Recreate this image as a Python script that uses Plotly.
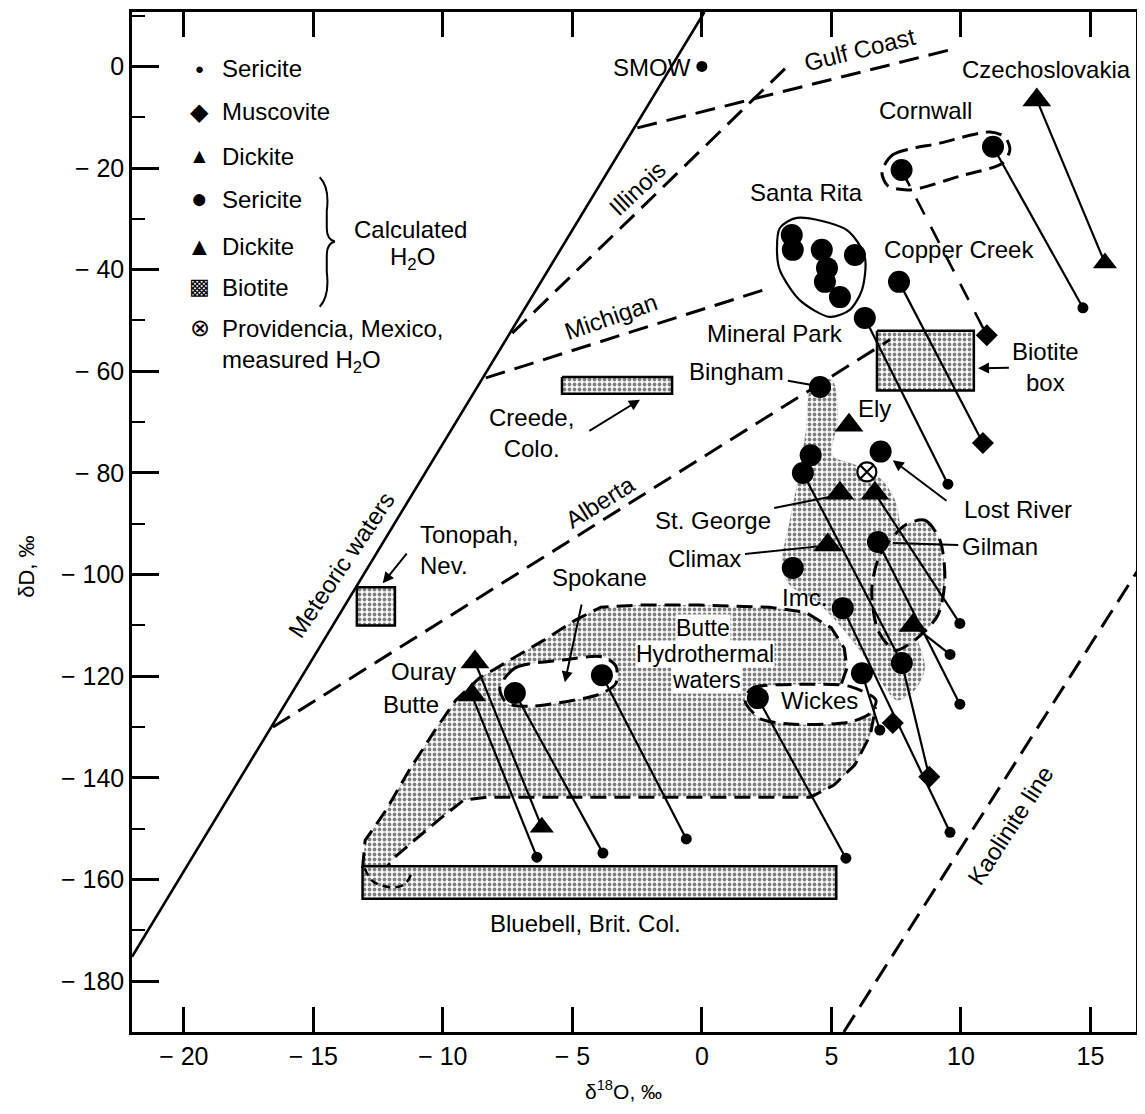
import plotly.graph_objects as go

# ---------------- data (delta18O, deltaD in per mil) ----------------
meteoric_x = [-22.0, 0.1]
meteoric_y = [-175.2, 10.7]
gulf_x = [-2.49, 9.58]
gulf_y = [-12.1, 3.25]
illinois_x = [-7.32, 3.3]
illinois_y = [-52.5, 0.0]
michigan_x = [-8.34, 2.63]
michigan_y = [-61.3, -43.6]
alberta_x = [-16.56, 7.26]
alberta_y = [-130.0, -53.8]
kaolinite_x = [5.48, 17.0]
kaolinite_y = [-190.0, -97.8]

smow_x = [0.0]
smow_y = [0.0]

calc_sericite_x = [7.71, 11.24, 3.47, 3.51, 4.63, 5.91, 4.83, 4.75, 5.33, 7.61, 6.29,
                   4.56, 3.9, 4.2, 6.9, 6.8, 3.51, 5.44, 6.18, 7.72, 2.16, -7.22, -3.86]
calc_sericite_y = [-20.4, -15.8, -33.2, -36.1, -36.1, -37.1, -39.7, -42.4, -45.4, -42.4, -49.5,
                   -63.1, -80.0, -76.5, -75.8, -93.6, -98.7, -106.6, -119.4, -117.4, -124.3, -123.3, -119.8]
calc_dickite_x = [12.93, 5.68, 5.33, 6.68, 4.86, 8.15, -8.76, -8.88]
calc_dickite_y = [-6.6, -70.6, -84.0, -84.0, -94.2, -110.0, -117.2, -123.7]

meas_sericite_x = [14.71, 9.5, 9.96, 9.58, 9.96, 6.87, 9.58, 5.56, -0.6, -3.82, -6.37]
meas_sericite_y = [-47.5, -82.2, -109.6, -115.7, -125.5, -130.6, -150.7, -155.8, -152.0, -154.8, -155.6]
meas_muscovite_x = [11.0, 10.85, 7.37, 8.78]
meas_muscovite_y = [-52.9, -74.1, -129.2, -139.8]
meas_dickite_x = [15.56, -6.18]
meas_dickite_y = [-38.7, -149.7]
providencia_x = [6.37]
providencia_y = [-79.8]

# tie lines: calculated H2O -> mineral
tie_from_x = [12.93, 11.24, 7.61, 6.29, 6.68, 8.15, 6.8, 5.44, 6.18, 7.72, 2.16, -3.86, -7.22, -8.76, -8.88, 3.9]
tie_from_y = [-6.6, -15.8, -42.4, -49.5, -84.0, -110.0, -93.6, -106.6, -119.4, -117.4, -124.3, -119.8, -123.3, -117.2, -123.7, -80.0]
tie_to_x = [15.56, 14.71, 10.85, 9.5, 9.96, 9.58, 9.96, 9.58, 6.87, 8.78, 5.56, -0.6, -3.82, -6.18, -6.37, 7.72]
tie_to_y = [-38.7, -47.5, -74.1, -82.2, -109.6, -115.7, -125.5, -150.7, -130.6, -139.8, -155.8, -152.0, -154.8, -149.7, -155.6, -117.4]
cornwall_tie_x = [7.71, 11.0]
cornwall_tie_y = [-20.4, -52.9]

# biotite boxes (x range, y range)
creede_x = [-5.4, -1.15]
creede_y = [-61.1, -64.4]
tonopah_x = [-13.32, -11.85]
tonopah_y = [-102.5, -110.0]
biotite_box_x = [6.76, 10.5]
biotite_box_y = [-52.0, -63.8]
bluebell_x = [-13.1, 5.19]
bluebell_y = [-157.4, -163.8]

# outlined fields
butte_x = [-13.1, -13.0, -12.2, -11.3, -10.3, -9.5, -8.6, -7.4, -6.1, -4.9, -3.9, -2.4, -0.1, 2.6, 4.0,
           5.0, 5.5, 5.6, 5.3, 6.0, 6.7, 6.5, 5.9, 5.1, 4.2, 2.2, -3.9, -8.3, -9.2, -10.1, -11.1, -11.9, -12.2]
butte_y = [-157.8, -152.3, -146.4, -138.5, -130.6, -124.7, -120.4, -116.8, -112.9, -109.0, -106.4, -106.0,
           -106.0, -106.4, -107.4, -110.5, -114.5, -118.4, -122.7, -124.7, -126.3, -131.6, -137.5, -141.4,
           -143.8, -143.8, -143.8, -143.8, -144.4, -148.0, -152.3, -155.8, -157.8]
band_x = [4.25, 5.02, 5.25, 5.02, 5.91, 6.87, 7.45, 7.72, 7.95, 8.34, 8.61, 8.22, 7.53, 6.87, 6.1,
          5.33, 4.36, 3.4, 3.09, 3.4, 3.78, 4.02]
band_y = [-62.7, -61.7, -69.6, -76.5, -78.4, -81.0, -85.3, -93.2, -105.0, -112.9, -118.4, -122.7, -124.7,
          -120.8, -114.9, -110.0, -105.0, -102.1, -98.1, -89.3, -79.4, -71.6]
gilman_x = [7.84, 8.61, 9.19, 9.38, 9.11, 8.22, 7.45, 6.8, 6.56, 6.87]
gilman_y = [-90.3, -89.3, -93.2, -101.1, -108.0, -112.9, -114.9, -111.0, -103.0, -96.2]
spokane_x = [-7.8, -7.22, -5.37, -3.82, -3.32, -3.32, -3.94, -6.64, -7.53]
spokane_y = [-122.3, -118.4, -116.8, -116.2, -118.0, -121.4, -123.5, -125.9, -125.3]
wickes_x = [1.66, 1.93, 3.78, 5.71, 6.72, 6.49, 5.71, 3.4, 2.24]
wickes_y = [-124.7, -122.4, -121.6, -122.0, -124.7, -127.3, -129.0, -129.4, -128.3]
cornwall_x = [6.95, 7.37, 9.19, 11.12, 11.7, 11.89, 11.62, 9.96, 8.03, 7.18]
cornwall_y = [-20.8, -17.4, -15.1, -12.9, -13.9, -16.4, -19.0, -21.6, -24.3, -23.5]
santarita_x = [3.67, 5.6, 6.29, 6.18, 5.71, 4.94, 3.78, 3.01, 2.9, 3.01]
santarita_y = [-29.8, -32.2, -37.5, -44.0, -47.9, -49.3, -46.0, -40.1, -36.1, -31.8]
bluebell_loop_x = [-13.01, -12.74, -12.05, -11.47, -11.16]
bluebell_loop_y = [-157.8, -160.2, -161.5, -160.9, -158.2]

x_ticks = [-20, -15, -10, -5, 0, 5, 10, 15]
x_ticktext = ["\u2212 20", "\u2212 15", "\u2212 10", "\u2212 5", "0", "5", "10", "15"]
y_ticks = [-180, -160, -140, -120, -100, -80, -60, -40, -20, 0]
y_ticktext = ["\u2212 180", "\u2212 160", "\u2212 140", "\u2212 120", "\u2212 100",
              "\u2212 80", "\u2212 60", "\u2212 40", "\u2212 20", "0"]

# ---------------- figure ----------------
FONT = "Liberation Sans, Arial, Helvetica, sans-serif"
DASH = "16px,8px"
STIPPLE = dict(shape=".", bgcolor="white", fgcolor="black", size=5, solidity=0.45)

fig = go.Figure()


def closed(a):
    return list(a) + [a[0]]


def rect(xr, yr):
    return [xr[0], xr[1], xr[1], xr[0], xr[0]], [yr[0], yr[0], yr[1], yr[1], yr[0]]


def add_region(xs, ys, dash=DASH, width=3, pattern=True, fillwhite=False, smooth=False):
    kw = dict(x=closed(xs), y=closed(ys), mode="lines", hoverinfo="skip", showlegend=False,
              line=dict(color="black", width=width, dash=dash,
                        shape="spline" if smooth else "linear", smoothing=0.8))
    if pattern:
        kw.update(fill="toself", fillcolor="white", fillpattern=STIPPLE)
    elif fillwhite:
        kw.update(fill="toself", fillcolor="white")
    fig.add_trace(go.Scatter(**kw))


# stippled fields
add_region(butte_x, butte_y)
add_region(band_x, band_y, dash="solid", width=0.1, smooth=True)
add_region(gilman_x, gilman_y, smooth=True)
for bx, by in [(creede_x, creede_y), (tonopah_x, tonopah_y), (biotite_box_x, biotite_box_y),
               (bluebell_x, bluebell_y)]:
    rx, ry = rect(bx, by)
    fig.add_trace(go.Scatter(x=rx, y=ry, mode="lines", fill="toself", fillcolor="white",
                             fillpattern=STIPPLE, line=dict(color="black", width=2.5),
                             hoverinfo="skip", showlegend=False))
# white enclosures
add_region(spokane_x, spokane_y, pattern=False, fillwhite=True, smooth=True)
add_region(wickes_x, wickes_y, pattern=False, fillwhite=True, smooth=True)
add_region(cornwall_x, cornwall_y, pattern=False, smooth=True)
add_region(santarita_x, santarita_y, dash="solid", width=2.2, pattern=False, fillwhite=True, smooth=True)
fig.add_trace(go.Scatter(x=bluebell_loop_x, y=bluebell_loop_y, mode="lines", hoverinfo="skip",
                         showlegend=False,
                         line=dict(color="black", width=2.5, dash="8px,5px", shape="spline")))

# reference lines
fig.add_trace(go.Scatter(x=meteoric_x, y=meteoric_y, mode="lines", showlegend=False,
                         line=dict(color="black", width=2.6)))
for lx, ly in [(gulf_x, gulf_y), (illinois_x, illinois_y), (michigan_x, michigan_y),
               (alberta_x, alberta_y), (kaolinite_x, kaolinite_y)]:
    fig.add_trace(go.Scatter(x=lx, y=ly, mode="lines", showlegend=False,
                             line=dict(color="black", width=3, dash="20px,10px")))

# tie lines
tx, ty = [], []
for a, b, c, d in zip(tie_from_x, tie_from_y, tie_to_x, tie_to_y):
    tx += [a, c, None]
    ty += [b, d, None]
fig.add_trace(go.Scatter(x=tx, y=ty, mode="lines", showlegend=False,
                         line=dict(color="black", width=2.2)))
fig.add_trace(go.Scatter(x=cornwall_tie_x, y=cornwall_tie_y, mode="lines", showlegend=False,
                         line=dict(color="black", width=2.6, dash="18px,14px")))

# markers
fig.add_trace(go.Scatter(x=calc_sericite_x, y=calc_sericite_y, mode="markers", showlegend=False,
                         marker=dict(symbol="circle", size=22, color="black")))
fig.add_trace(go.Scatter(x=calc_dickite_x, y=calc_dickite_y, mode="markers", showlegend=False,
                         marker=dict(symbol="triangle-up", size=25, color="black")))
fig.add_trace(go.Scatter(x=meas_sericite_x, y=meas_sericite_y, mode="markers", showlegend=False,
                         marker=dict(symbol="circle", size=11, color="black")))
fig.add_trace(go.Scatter(x=meas_muscovite_x, y=meas_muscovite_y, mode="markers", showlegend=False,
                         marker=dict(symbol="diamond", size=17, color="black")))
fig.add_trace(go.Scatter(x=meas_dickite_x, y=meas_dickite_y, mode="markers", showlegend=False,
                         marker=dict(symbol="triangle-up", size=21, color="black")))
fig.add_trace(go.Scatter(x=smow_x, y=smow_y, mode="markers", showlegend=False,
                         marker=dict(symbol="circle", size=11, color="black")))
fig.add_trace(go.Scatter(x=providencia_x, y=providencia_y, mode="markers", showlegend=False,
                         marker=dict(symbol="circle-x", size=19, color="white",
                                     line=dict(color="black", width=2.2))))

# ---------------- labels ----------------
ann = []


def label(text, x, y, angle=0, head=None, arrow=True, **kw):
    """Text centred at (x, y); with head=(hx, hy) a leader is drawn from the text to that point."""
    d = dict(text=text, xref="x", yref="y", textangle=angle, xanchor="center", yanchor="middle",
             font=dict(family=FONT, size=24, color="black"))
    if head is None:
        d.update(x=x, y=y, showarrow=False)
    else:
        d.update(x=head[0], y=head[1], ax=x, ay=y, axref="x", ayref="y", showarrow=True,
                 arrowhead=2 if arrow else 0, arrowsize=1.1, arrowwidth=2, arrowcolor="black",
                 standoff=0, startstandoff=2)
    d.update(kw)
    ann.append(d)


def pointer(x, y, ax, ay):
    ann.append(dict(text="", x=x, y=y, ax=ax, ay=ay, xref="x", yref="y", axref="x", ayref="y",
                    showarrow=True, arrowhead=2, arrowsize=1.1, arrowwidth=2,
                    arrowcolor="black", standoff=0, startstandoff=0))


label("SMOW", -0.35, -0.3, xanchor="right")
label("Gulf Coast", 6.1, 3.3, angle=-14)
label("Czechoslovakia", 13.3, -0.7)
label("Cornwall", 8.65, -8.6)
label("Illinois", -2.5, -24.0, angle=-43)
label("Santa Rita", 4.05, -24.9)
label("Copper Creek", 9.92, -36.1)
label("Michigan", -3.5, -49.3, angle=-19)
label("Mineral Park", 2.82, -52.5)
label("Bingham", 1.35, -60.1, head=(4.25, -62.7), arrow=False)
label("Biotite<br>box", 13.28, -59.2, head=(10.66, -59.4))
label("Creede,<br>Colo.", -6.56, -72.1)
pointer(-2.39, -65.6, -4.4, -71.9)
label("Tonopah,<br>Nev.", -10.97, -95.2, xanchor="left", align="left")
pointer(-12.32, -101.7, -11.35, -95.6)
label("Meteoric waters", -13.9, -98.1, angle=-56)
label("Alberta", -3.9, -85.7, angle=-32)
label("Spokane", -3.94, -100.5)
pointer(-5.29, -121.2, -4.63, -105.6)
label("Ouray", -10.73, -119.0)
label("Butte", -11.24, -125.5)
label("St. George", 0.42, -89.3, head=(5.25, -84.4), arrow=False)
label("Climax", 0.12, -96.8, head=(4.94, -94.2), arrow=False)
label("Imc.", 3.98, -104.6)
label("Ely", 6.68, -67.4)
label("Lost River", 12.2, -87.1)
pointer(7.37, -77.5, 9.5, -85.7)
label("Gilman", 11.5, -94.4, head=(7.37, -93.8), arrow=False)
label("Butte", 0.04, -110.6, bgcolor="white", borderpad=0, font=dict(family=FONT, size=23, color="black"))
label("Hydrothermal", 0.12, -115.6, bgcolor="white", borderpad=0, font=dict(family=FONT, size=23, color="black"))
label("waters", 0.19, -120.7, bgcolor="white", borderpad=0, font=dict(family=FONT, size=23, color="black"))
label("Wickes", 4.56, -124.7)
label("Bluebell, Brit. Col.", -4.48, -168.6)
label("Kaolinite line", 11.9, -149.3, angle=-57)


# legend block (paper coordinates)
def pl(text, x, y, size=24, xanchor="left"):
    ann.append(dict(text=text, x=x, y=y, xref="paper", yref="paper", showarrow=False,
                    xanchor=xanchor, yanchor="middle", font=dict(family=FONT, size=size, color="black")))


sym_x = 0.0677
txt_x = 0.0876
pl("\u25CF", sym_x, 0.945, size=15, xanchor="center")
pl("Sericite", txt_x, 0.945)
pl("\u25C6", sym_x, 0.902, size=24, xanchor="center")
pl("Muscovite", txt_x, 0.902)
pl("\u25B2", sym_x, 0.859, size=21, xanchor="center")
pl("Dickite", txt_x, 0.858)
pl("\u25CF", sym_x, 0.817, size=28, xanchor="center")
pl("Sericite", txt_x, 0.816)
pl("\u25B2", sym_x, 0.771, size=25, xanchor="center")
pl("Dickite", txt_x, 0.770)
pl("\u25A9", sym_x, 0.731, size=22, xanchor="center")
pl("Biotite", txt_x, 0.730)
pl("\u2297", sym_x, 0.691, size=24, xanchor="center")
pl("Providencia, Mexico,", txt_x, 0.690)
pl("measured H<sub>2</sub>O", txt_x, 0.657)
pl("Calculated", 0.219, 0.787)
pl("H<sub>2</sub>O", 0.279, 0.758, xanchor="center")

# axis titles
ann.append(dict(text="\u03B4<sup>18</sup>O, \u2030", x=0.49, y=-0.0565, xref="paper", yref="paper",
                xanchor="center", yanchor="middle",
                showarrow=False, font=dict(family=FONT, size=21, color="black")))
ann.append(dict(text="\u03B4D, \u2030", x=-0.1046, y=0.456, xref="paper", yref="paper", textangle=-90,
                xanchor="center", yanchor="middle",
                showarrow=False, font=dict(family=FONT, size=22, color="black")))

brace = "M 0.187,0.838 Q 0.197,0.828 0.194,0.805 L 0.194,0.788 Q 0.194,0.777 0.202,0.775 " \
        "Q 0.194,0.773 0.194,0.762 L 0.194,0.745 Q 0.197,0.722 0.187,0.711"

# page body has an 8px default margin: size/margins chosen so the plot frame sits where the original does
fig.update_layout(
    width=1129, height=1098,
    margin=dict(l=124, r=1, t=4, b=74),
    paper_bgcolor="white", plot_bgcolor="white",
    showlegend=False,
    annotations=ann,
    shapes=[dict(type="path", path=brace, xref="paper", yref="paper",
                 line=dict(color="black", width=2))],
    xaxis=dict(range=[-22, 16.76], showgrid=False, zeroline=False, showline=True, linecolor="black",
               linewidth=2.5, mirror="ticks", ticks="inside", ticklen=25, tickwidth=2.5,
               tickcolor="black", tickvals=x_ticks, ticktext=x_ticktext, automargin=False,
               tickfont=dict(family=FONT, size=25, color="black")),
    yaxis=dict(range=[-190, 10.7], showgrid=False, zeroline=False, showline=True, linecolor="black",
               linewidth=2.5, mirror=True, ticks="inside", ticklen=27, tickwidth=2.5,
               tickcolor="black", tickvals=y_ticks, ticktext=y_ticktext, automargin=False,
               tickfont=dict(family=FONT, size=25, color="black"),
               minor=dict(ticks="inside", ticklen=13, tickwidth=2, tickcolor="black",
                          tickmode="linear", tick0=0, dtick=10, showgrid=False)),
)

fig.write_html("out.html")
